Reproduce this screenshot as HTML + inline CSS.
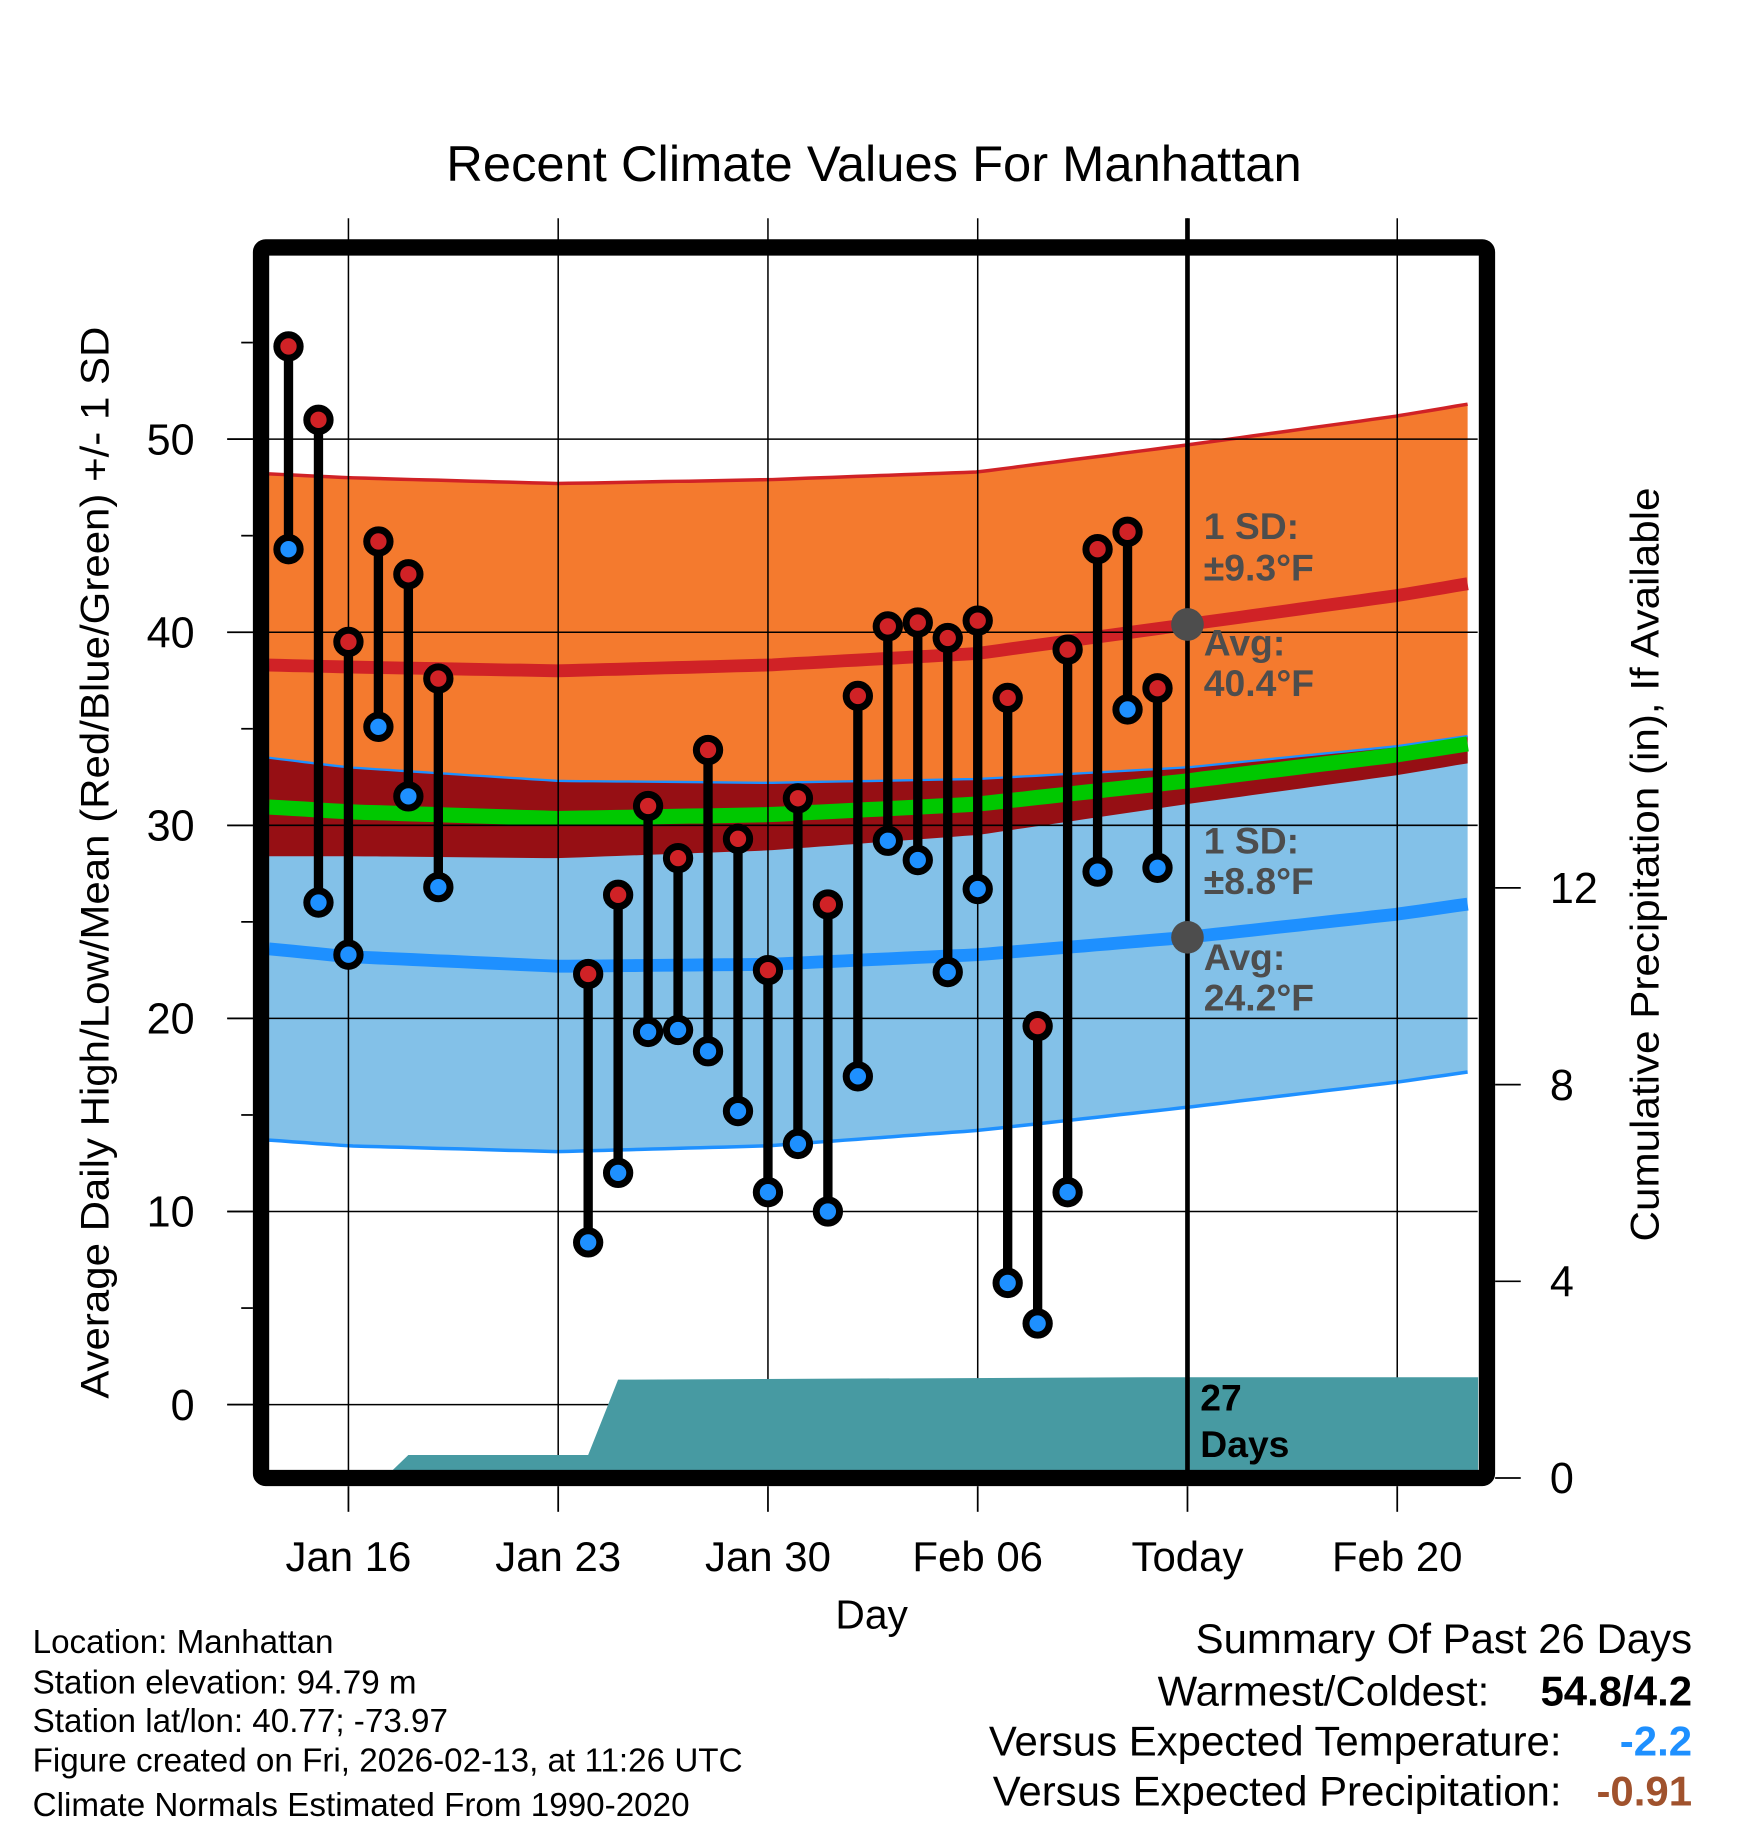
<!DOCTYPE html>
<html><head><meta charset="utf-8"><style>
html,body{margin:0;padding:0;background:#fff;}
svg{display:block;font-family:"Liberation Sans",sans-serif;}
</style></head><body>
<svg id="chart" xmlns="http://www.w3.org/2000/svg" width="1748" height="1828" viewBox="0 0 1500 1568">
<rect width="1500" height="1568" fill="#fff"/>
<text x="383" y="155" font-size="43" textLength="734" lengthAdjust="spacingAndGlyphs">Recent Climate Values For Manhattan</text>
<g id="bands"></g>
<g id="grid"></g>
<g id="precip"></g>
<g id="marks"></g>
<g id="labels" font-weight="bold" font-size="32" fill="#4d4d4d">
<text x="1033" y="462">1 SD:</text>
<text x="1033" y="498">±9.3°F</text>
<text x="1033" y="562">Avg:</text>
<text x="1033" y="597">40.4°F</text>
<text x="1033" y="732">1 SD:</text>
<text x="1033" y="767">±8.8°F</text>
<text x="1033" y="832">Avg:</text>
<text x="1033" y="867">24.2°F</text>
<text x="1030" y="1210" fill="#000">27</text>
<text x="1030" y="1250" fill="#000">Days</text>
</g>
<rect x="224" y="212" width="1052" height="1056" fill="none" stroke="#000" stroke-width="14" rx="4"/>
<g id="axes" font-size="37"></g>
<text transform="translate(93,1200) rotate(-90)" font-size="34" textLength="920" lengthAdjust="spacingAndGlyphs">Average Daily High/Low/Mean (Red/Blue/Green) +/- 1 SD</text>
<text transform="translate(1423,1065) rotate(-90)" font-size="34" textLength="647" lengthAdjust="spacingAndGlyphs">Cumulative Precipitation (in), If Available</text>
<text x="748" y="1397" font-size="35" text-anchor="middle">Day</text>
<g font-size="28.5">
<text x="28" y="1418">Location: Manhattan</text>
<text x="28" y="1453">Station elevation: 94.79 m</text>
<text x="28" y="1486">Station lat/lon: 40.77; -73.97</text>
<text x="28" y="1520">Figure created on Fri, 2026-02-13, at 11:26 UTC</text>
<text x="28" y="1558">Climate Normals Estimated From 1990-2020</text>
</g>
<g font-size="36">
<text x="1452" y="1418" text-anchor="end">Summary Of Past 26 Days</text>
<text x="1278" y="1463" text-anchor="end">Warmest/Coldest:</text>
<text x="1452" y="1463" text-anchor="end" font-weight="bold">54.8/4.2</text>
<text x="1340" y="1506" text-anchor="end">Versus Expected Temperature:</text>
<text x="1452" y="1506" text-anchor="end" font-weight="bold" fill="#1e90ff">-2.2</text>
<text x="1340" y="1549" text-anchor="end">Versus Expected Precipitation:</text>
<text x="1452" y="1549" text-anchor="end" font-weight="bold" fill="#a0522d">-0.91</text>
</g>
</svg>
<script>
// data (days relative to Jan 16)
const normDays=[-2.65,0,7,14,21,28,35,37.7];
const hiAvg=[38.3,38.2,38.0,38.3,38.9,40.4,41.9,42.6];
const hiSD=[9.9,9.8,9.7,9.6,9.4,9.3,9.3,9.3];
const loAvg=[23.6,23.2,22.7,22.8,23.3,24.2,25.4,26.0];
const loSD=[9.9,9.8,9.6,9.4,9.1,8.8,8.7,8.7];
const obsDays=[-2,-1,0,1,2,3,8,9,10,11,12,13,14,15,16,17,18,19,20,21,22,23,24,25,26,27];
const obsHigh=[54.8,51.0,39.5,44.7,43.0,37.6,22.3,26.4,31.0,28.3,33.9,29.3,22.5,31.4,25.9,36.7,40.3,40.5,39.7,40.6,36.6,19.6,39.1,44.3,45.2,37.1];
const obsLow=[44.3,26.0,23.3,35.1,31.5,26.8,8.4,12.0,19.3,19.4,18.3,15.2,11.0,13.5,10.0,17.0,29.2,28.2,22.4,26.7,6.3,4.2,11.0,27.6,36.0,27.8];
const precDays=[-2.65,1.2,2,8,9,27,37.7];
const precVals=[0,0,0.47,0.47,2.0,2.05,2.05];
const xTickDays=[0,7,14,21,28,35];
const xTickLabels=['Jan 16','Jan 23','Jan 30','Feb 06','Today','Feb 20'];
const yTicks=[0,10,20,30,40,50];
const y2Ticks=[0,4,8,12];

const X=d=>299+d*180/7;
const Y=v=>1205-v*16.57;
const Y2=v=>1268-v*42.2;
const NS='http://www.w3.org/2000/svg';
function mk(p,tag,attrs){const e=document.createElementNS(NS,tag);for(const k in attrs)e.setAttribute(k,attrs[k]);p.appendChild(e);return e;}
function interp(xs,ys,x){for(let i=0;i<xs.length-1;i++){if(x<=xs[i+1]){const t=(x-xs[i])/(xs[i+1]-xs[i]);return ys[i]+t*(ys[i+1]-ys[i]);}}return ys[ys.length-1];}
const samp=[];for(let d=-2.65;d<=37.71;d+=0.4)samp.push(Math.min(d,37.7));
const hs=samp.map(d=>interp(normDays,hiAvg,d)), ls=samp.map(d=>interp(normDays,loAvg,d));
const hsd=samp.map(d=>interp(normDays,hiSD,d)), lsd=samp.map(d=>interp(normDays,loSD,d));
const pts=(arr)=>arr.map((v,i)=>X(samp[i]).toFixed(1)+','+Y(v).toFixed(1));
const hiUp=hs.map((v,i)=>v+hsd[i]), hiDn=hs.map((v,i)=>v-hsd[i]);
const loUp=ls.map((v,i)=>v+lsd[i]), loDn=ls.map((v,i)=>v-lsd[i]);
const bands=document.getElementById('bands');
let e;
e=mk(bands,'polygon',{points:pts(hiUp).concat(pts(hiDn).reverse()).join(' '),fill:'#f47a2e'});

e=mk(bands,'polygon',{points:pts(loUp).concat(pts(loDn).reverse()).join(' '),fill:'#83c1e8'});

e=mk(bands,'polygon',{points:pts(loUp).concat(pts(hiDn).reverse()).join(' '),fill:'#960f14'});

e=mk(bands,'polyline',{points:pts(hiUp).join(' '),fill:'none',stroke:'#d02226','stroke-width':3});

e=mk(bands,'polyline',{points:pts(loDn).join(' '),fill:'none',stroke:'#1e90ff','stroke-width':3});

e=mk(bands,'polyline',{points:pts(loUp).join(' '),fill:'none',stroke:'#1e90ff','stroke-width':2});

e=mk(bands,'polyline',{points:pts(hs.map((v,i)=>(v+ls[i])/2)).join(' '),fill:'none',stroke:'#00c800','stroke-width':13});

e=mk(bands,'polyline',{points:pts(hs).join(' '),fill:'none',stroke:'#d02226','stroke-width':11});

e=mk(bands,'polyline',{points:pts(ls).join(' '),fill:'none',stroke:'#1e90ff','stroke-width':11});


const grid=document.getElementById('grid');
xTickDays.forEach(d=>{e=mk(grid,'line',{x1:X(d),x2:X(d),y1:187,y2:1262,stroke:'#000','stroke-width':1.3});
});
yTicks.forEach(v=>{e=mk(grid,'line',{x1:195,x2:1268,y1:Y(v),y2:Y(v),stroke:'#000','stroke-width':1.3});
});

const pr=document.getElementById('precip');
const pp=precDays.map((d,i)=>X(d).toFixed(1)+','+Y2(precVals[i]).toFixed(1));
e=mk(pr,'polygon',{points:pp.join(' ')+' '+X(37.7)+','+Y2(0)+' '+X(-2.65)+','+Y2(0),fill:'#479aa2'});


const mg=document.getElementById('marks');
e=mk(mg,'line',{x1:X(28),x2:X(28),y1:187,y2:1262,stroke:'#000','stroke-width':4});

obsDays.forEach((d,i)=>{
 e=mk(mg,'line',{x1:X(d),x2:X(d),y1:Y(obsHigh[i]),y2:Y(obsLow[i]),stroke:'#000','stroke-width':8});
 
 e=mk(mg,'circle',{cx:X(d),cy:Y(obsHigh[i]),r:10,fill:'#d02226',stroke:'#000','stroke-width':6});
 
 e=mk(mg,'circle',{cx:X(d),cy:Y(obsLow[i]),r:10,fill:'#1e90ff',stroke:'#000','stroke-width':6});
 
});
e=mk(mg,'circle',{cx:X(28),cy:Y(interp(normDays,hiAvg,28)),r:14,fill:'#4d4d4d'});

e=mk(mg,'circle',{cx:X(28),cy:Y(interp(normDays,loAvg,28)),r:14,fill:'#4d4d4d'});


const ax=document.getElementById('axes');
for(let v=0;v<=55;v+=5){const major=v%10===0;
 e=mk(ax,'line',{x1:major?195:207,x2:217,y1:Y(v),y2:Y(v),stroke:'#000','stroke-width':1.5});
 }
yTicks.forEach(v=>{e=mk(ax,'text',{x:167,y:Y(v)+13,'text-anchor':'end'});e.textContent=v;
 });
y2Ticks.forEach(v=>{
 e=mk(ax,'line',{x1:1283,x2:1305,y1:Y2(v),y2:Y2(v),stroke:'#000','stroke-width':1.5});
 
 e=mk(ax,'text',{x:1330,y:Y2(v)+13});e.textContent=v;
 });
xTickDays.forEach((d,i)=>{
 e=mk(ax,'line',{x1:X(d),x2:X(d),y1:1275,y2:1297,stroke:'#000','stroke-width':1.5});
 
 e=mk(ax,'text',{x:X(d),y:1348,'text-anchor':'middle','font-size':36});e.textContent=xTickLabels[i];
 });
</script>
</body></html>
